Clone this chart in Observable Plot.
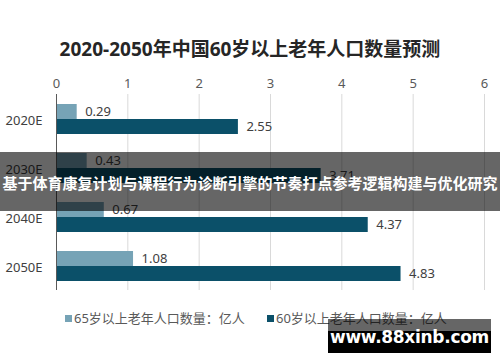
<!DOCTYPE html>
<html>
<head>
<meta charset="utf-8">
<script src="https://cdn.jsdelivr.net/npm/d3@7"></script>
<script src="https://cdn.jsdelivr.net/npm/@observablehq/plot@0.6"></script>
<style>
  html, body { margin: 0; padding: 0; background: #fff; }
  #wrap { position: relative; width: 500px; height: 362px; overflow: hidden; background: #fff;
    font-family: "Noto Sans", "Noto Sans CJK SC", sans-serif; }
  #title { position: absolute; left: 0; top: 37px; width: 500px; text-align: center;
    font-size: 19px; line-height: 24px; font-weight: bold; color: #262626; }
  #chart { position: absolute; left: 0; top: 64px; }
  .leg { position: absolute; top: 310px; font-size: 13px; line-height: 16px; color: #595959; white-space: nowrap; }
  .leg i { display: inline-block; width: 7px; height: 7px; margin-right: 2px; vertical-align: 1px; }
  #banner { position: absolute; left: 0; top: 152px; width: 500px; height: 59px; background: rgba(0,0,0,0.6);
    color: #fff; font-weight: bold; font-size: 15px; line-height: 62px; text-align: center; white-space: nowrap;
    font-family: "Noto Sans CJK SC", sans-serif; }
  #wm1 { position: absolute; left: 328px; top: 319px; width: 163px; height: 12px; background: rgba(0,0,0,0.6); }
  #wm2 { position: absolute; left: 328px; top: 331px; width: 163px; height: 22px; background: #000; }
  #wmt { position: absolute; left: 328px; top: 319px; width: 163px; height: 34px; line-height: 36px; text-align: center;
    color: #fff; font-weight: bold; font-size: 17px; font-family: "DejaVu Sans", sans-serif; letter-spacing: -0.3px; }
</style>
</head>
<body>
<div id="wrap">
  <div id="title"></div>
  <div id="chart"></div>
  <div id="legend"></div>
  <div id="banner"></div>
  <div id="wm1"></div><div id="wm2"></div><div id="wmt"></div>
</div>
<script>
const titleText = "2020-2050年中国60岁以上老年人口数量预测";
const categories = ["2020E", "2030E", "2040E", "2050E"];
const series = ["65岁以上老年人口数量：亿人", "60岁以上老年人口数量：亿人"];
const values65 = [0.29, 0.43, 0.67, 1.08];
const values60 = [2.55, 3.71, 4.37, 4.83];
const xTicks = [0, 1, 2, 3, 4, 5, 6];
const colors = ["#76a3b6", "#0b5069"];
const bannerText = "基于体育康复计划与课程行为诊断引擎的节奏打点参考逻辑构建与优化研究";
const watermark = "www.88xinb.com";

const data = categories.flatMap((c, i) => [
  {cat: c, s: series[0], v: values65[i]},
  {cat: c, s: series[1], v: values60[i]}
]);

document.getElementById("title").textContent = titleText;
document.getElementById("banner").textContent = bannerText;
document.getElementById("wmt").textContent = watermark;

const chart = Plot.plot({
  width: 500,
  height: 232,
  marginTop: 29,
  marginBottom: 6,
  marginLeft: 56,
  marginRight: 16,
  style: {fontFamily: '"Noto Sans", "Noto Sans CJK SC", sans-serif', color: "#595959", background: "transparent"},
  x: {domain: [0, 6]},
  y: {domain: series, paddingInner: 0, paddingOuter: 0.58, axis: null},
  fy: {domain: categories, padding: 0},
  color: {domain: series, range: colors},
  marks: [
    Plot.gridX(xTicks, {stroke: "#d9d9d9", strokeOpacity: 1}),
    Plot.barX(data, {x: "v", y: "s", fy: "cat", fill: "s"}),
    Plot.ruleX([0], {stroke: "#595959", strokeWidth: 1}),
    Plot.text(data, {x: "v", y: "s", fy: "cat", text: d => d.v.toFixed(2), textAnchor: "start", dx: 8, fontSize: 13, fill: "#404040"}),
    Plot.axisX(xTicks, {anchor: "top", tickSize: 0, tickPadding: 7, label: null, fontSize: 13}),
    Plot.axisFy({anchor: "left", tickSize: 0, tickPadding: 14, label: null, fontSize: 13, fill: "#404040", dy: 2})
  ]
});
document.getElementById("chart").appendChild(chart);

const legend = document.getElementById("legend");
const legX = [65, 267];
series.forEach((s, i) => {
  const d = document.createElement("div");
  d.className = "leg";
  d.style.left = legX[i] + "px";
  const sw = document.createElement("i");
  sw.style.background = colors[i];
  d.appendChild(sw);
  d.appendChild(document.createTextNode(s));
  legend.appendChild(d);
});
</script>
</body>
</html>
